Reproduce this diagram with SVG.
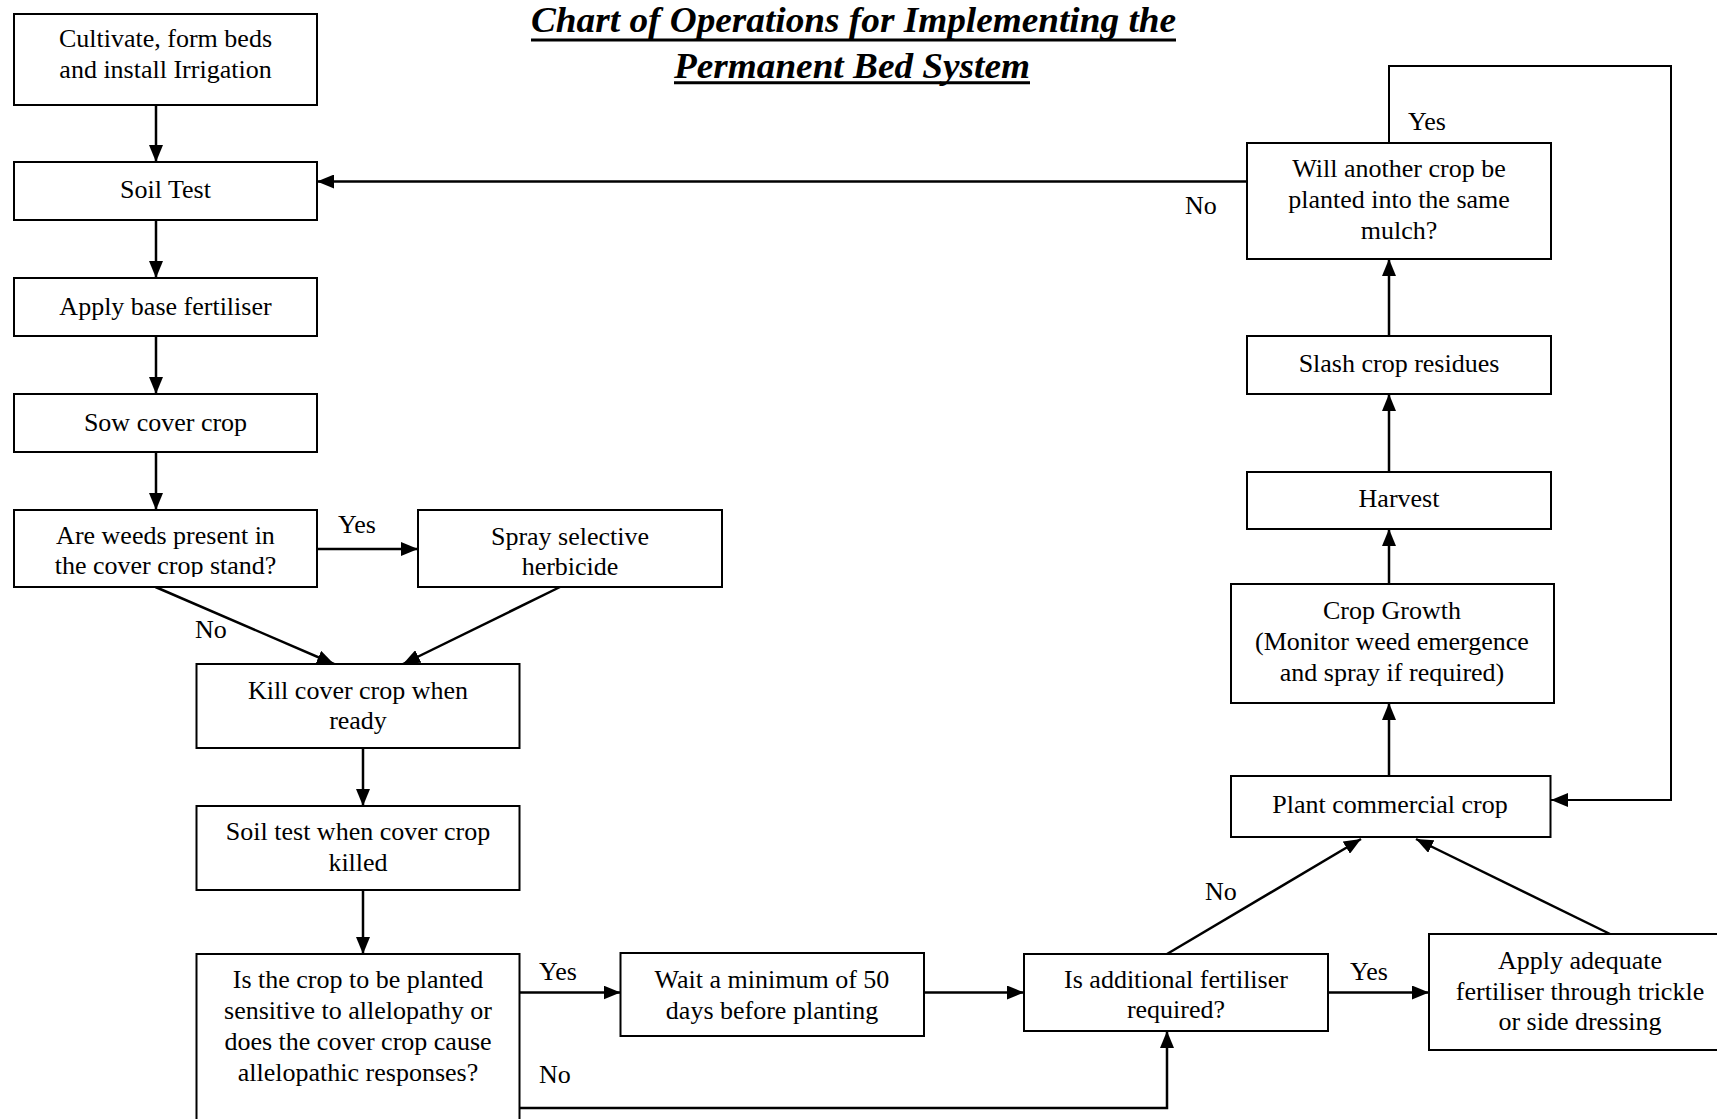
<svg xmlns="http://www.w3.org/2000/svg" width="1717" height="1119" viewBox="0 0 1717 1119">
<style>
.box{fill:#fff;stroke:#000;stroke-width:2}
.t{font-family:"Liberation Serif","Times New Roman",serif;font-size:26px;fill:#000;text-anchor:middle}
.l{font-family:"Liberation Serif","Times New Roman",serif;font-size:26px;fill:#000;text-anchor:start}
.title{font-family:"Liberation Serif","Times New Roman",serif;font-size:36px;font-weight:bold;font-style:italic;fill:#000}
.c{stroke:#000;stroke-width:2.5;fill:none}
.u{stroke:#000;stroke-width:3}
</style>
<defs>
<marker id="ah" markerWidth="17" markerHeight="14" refX="17" refY="7" orient="auto" markerUnits="userSpaceOnUse"><path d="M0,0 L17,7 L0,14 z" fill="#000"/></marker>
<clipPath id="clip5"><rect x="14" y="505" width="303" height="72"/></clipPath>
</defs>
<rect width="1717" height="1119" fill="#fff"/>

<g id="title">
<text class="title" x="531" y="31.5" textLength="645" lengthAdjust="spacingAndGlyphs">Chart of Operations for Implementing the</text>
<line class="u" x1="531" y1="40" x2="1176" y2="40"/>
<text class="title" x="674" y="77.5" textLength="356" lengthAdjust="spacingAndGlyphs">Permanent Bed System</text>
<line class="u" x1="674" y1="82.7" x2="1030" y2="82.7"/>
</g>

<g id="connectors">
<line class="c" x1="156" y1="105" x2="156" y2="162" marker-end="url(#ah)"/>
<line class="c" x1="156" y1="220" x2="156" y2="278" marker-end="url(#ah)"/>
<line class="c" x1="156" y1="336" x2="156" y2="394" marker-end="url(#ah)"/>
<line class="c" x1="156" y1="452" x2="156" y2="510" marker-end="url(#ah)"/>
<line class="c" x1="317" y1="549" x2="418" y2="549" marker-end="url(#ah)"/>
<line class="c" x1="155.5" y1="587" x2="334" y2="664" marker-end="url(#ah)"/>
<line class="c" x1="560" y1="587" x2="403" y2="664" marker-end="url(#ah)"/>
<line class="c" x1="363" y1="748" x2="363" y2="806" marker-end="url(#ah)"/>
<line class="c" x1="363" y1="890" x2="363" y2="954" marker-end="url(#ah)"/>
<line class="c" x1="520" y1="992.5" x2="620.5" y2="992.5" marker-end="url(#ah)"/>
<polyline class="c" points="520,1108 1167,1108 1167,1031" marker-end="url(#ah)"/>
<line class="c" x1="924" y1="992.5" x2="1024" y2="992.5" marker-end="url(#ah)"/>
<line class="c" x1="1328" y1="992.5" x2="1429" y2="992.5" marker-end="url(#ah)"/>
<line class="c" x1="1167" y1="954" x2="1361" y2="839" marker-end="url(#ah)"/>
<line class="c" x1="1610" y1="934" x2="1416" y2="839" marker-end="url(#ah)"/>
<line class="c" x1="1389" y1="776" x2="1389" y2="703" marker-end="url(#ah)"/>
<line class="c" x1="1389" y1="584" x2="1389" y2="529" marker-end="url(#ah)"/>
<line class="c" x1="1389" y1="472" x2="1389" y2="394" marker-end="url(#ah)"/>
<line class="c" x1="1389" y1="336" x2="1389" y2="259" marker-end="url(#ah)"/>
<polyline class="c" style="stroke-width:2" points="1389,143 1389,66 1671,66 1671,800 1551,800" marker-end="url(#ah)"/>
<line class="c" x1="1247" y1="181.5" x2="317" y2="181.5" marker-end="url(#ah)"/>
<text class="l" x="338" y="533">Yes</text>
<text class="l" x="195" y="638">No</text>
<text class="l" x="539" y="980">Yes</text>
<text class="l" x="539" y="1083">No</text>
<text class="l" x="1350" y="980">Yes</text>
<text class="l" x="1205" y="900">No</text>
<text class="l" x="1408" y="130">Yes</text>
<text class="l" x="1185" y="214">No</text>
</g>

<g id="n1">
<rect class="box" x="14" y="14" width="303" height="91"/>
<text class="t" x="165.5" y="47">Cultivate, form beds</text>
<text class="t" x="165.5" y="78">and install Irrigation</text>
</g>
<g id="n2">
<rect class="box" x="14" y="162" width="303" height="58"/>
<text class="t" x="165.5" y="198">Soil Test</text>
</g>
<g id="n3">
<rect class="box" x="14" y="278" width="303" height="58"/>
<text class="t" x="165.5" y="314.5">Apply base fertiliser</text>
</g>
<g id="n4">
<rect class="box" x="14" y="394" width="303" height="58"/>
<text class="t" x="165.5" y="430.5">Sow cover crop</text>
</g>
<g id="n5">
<rect class="box" x="14" y="510" width="303" height="77"/>
<text class="t" x="165.5" y="544">Are weeds present in</text>
<text class="t" x="165.5" y="574" clip-path="url(#clip5)">the cover crop stand?</text>
</g>
<g id="n6">
<rect class="box" x="418" y="510" width="304" height="77"/>
<text class="t" x="570" y="545">Spray selective</text>
<text class="t" x="570" y="575">herbicide</text>
</g>
<g id="n7">
<rect class="box" x="196.5" y="664" width="323" height="84"/>
<text class="t" x="358" y="699">Kill cover crop when</text>
<text class="t" x="358" y="729">ready</text>
</g>
<g id="n8">
<rect class="box" x="196.5" y="806" width="323" height="84"/>
<text class="t" x="358" y="840">Soil test when cover crop</text>
<text class="t" x="358" y="871">killed</text>
</g>
<g id="n9">
<rect class="box" x="196.5" y="954" width="323" height="180"/>
<text class="t" x="358" y="988">Is the crop to be planted</text>
<text class="t" x="358" y="1018.5">sensitive to allelopathy or</text>
<text class="t" x="358" y="1049.5">does the cover crop cause</text>
<text class="t" x="358" y="1081">allelopathic responses?</text>
</g>
<g id="n10">
<rect class="box" x="620.5" y="953" width="303.5" height="83"/>
<text class="t" x="772" y="988">Wait a minimum of 50</text>
<text class="t" x="772" y="1019">days before planting</text>
</g>
<g id="n11">
<rect class="box" x="1024" y="954" width="304" height="77"/>
<text class="t" x="1176" y="988">Is additional fertiliser</text>
<text class="t" x="1176" y="1018">required?</text>
</g>
<g id="n12">
<rect class="box" x="1429" y="934" width="300" height="116"/>
<text class="t" x="1580" y="969">Apply adequate</text>
<text class="t" x="1580" y="999.5">fertiliser through trickle</text>
<text class="t" x="1580" y="1030">or side dressing</text>
</g>
<g id="n13">
<rect class="box" x="1231" y="776" width="319.5" height="61"/>
<text class="t" x="1390" y="813">Plant commercial crop</text>
</g>
<g id="n14">
<rect class="box" x="1231" y="584" width="323" height="119"/>
<text class="t" x="1392" y="619">Crop Growth</text>
<text class="t" x="1392" y="650">(Monitor weed emergence</text>
<text class="t" x="1392" y="680.5">and spray if required)</text>
</g>
<g id="n15">
<rect class="box" x="1247" y="472" width="304" height="57"/>
<text class="t" x="1399" y="506.5">Harvest</text>
</g>
<g id="n16">
<rect class="box" x="1247" y="336" width="304" height="58"/>
<text class="t" x="1399" y="371.5">Slash crop residues</text>
</g>
<g id="n17">
<rect class="box" x="1247" y="143" width="304" height="116"/>
<text class="t" x="1399" y="176.5">Will another crop be</text>
<text class="t" x="1399" y="208">planted into the same</text>
<text class="t" x="1399" y="239">mulch?</text>
</g>
</svg>
